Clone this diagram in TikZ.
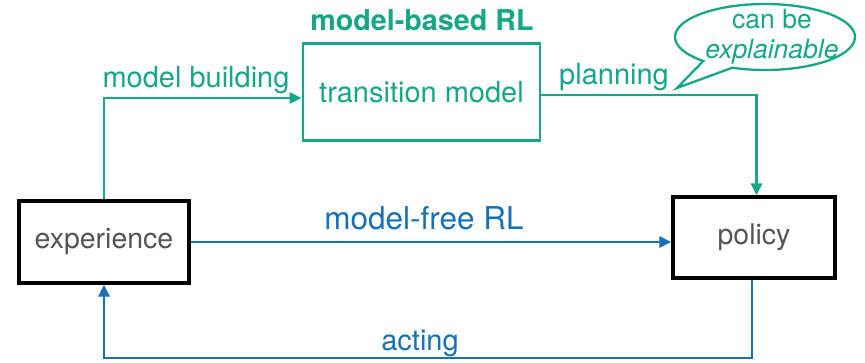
\documentclass[tikz,border=0pt]{standalone}
\usepackage{fontspec}
\setmainfont{TeX Gyre Heros}
\usetikzlibrary{shapes.callouts,arrows.meta}
\definecolor{mbteal}{RGB}{22,166,136}
\definecolor{mfblue}{RGB}{24,113,181}
\definecolor{txtgray}{RGB}{85,85,85}
\tikzset{
  blackbox/.style={draw=black, line width=3.2pt, minimum width=170pt, minimum height=82pt, inner sep=0pt, text=txtgray, font=\fontsize{28.5}{32}\selectfont},
  tealbox/.style={draw=mbteal, line width=2.8pt, inner sep=0pt, text=mbteal, font=\fontsize{29}{32}\selectfont},
  tealline/.style={draw=mbteal, line width=2.8pt, -{Triangle[length=12pt,width=11pt]}},
  blueline/.style={draw=mfblue, line width=2.8pt, -{Triangle[length=12pt,width=11pt]}},
  lbl/.style={inner sep=0pt, font=\fontsize{29}{32}\selectfont},
  bubble/.style={ellipse callout, draw=mbteal, line width=2.3pt, minimum width=180pt, minimum height=66pt, inner sep=0pt, callout pointer arc=22},
  bubtext/.style={inner sep=0pt, text=mbteal, align=center, font=\fontsize{26.5}{30}\selectfont}
}
\begin{document}
\begin{tikzpicture}[x=1pt,y=-1pt]
\useasboundingbox[fill=white] (0,0) rectangle (865,362);
\node[blackbox] (exp) at (104,242) {experience};
\node[blackbox, minimum width=162pt, minimum height=81pt] (pol) at (754,237.5) {policy};
\node[tealbox, minimum width=237pt, minimum height=97pt] (tm) at (421.5,92) {transition model};
\node[lbl, text=mbteal, font=\bfseries\fontsize{28.7}{32}\selectfont] (mb) at (422,20) {model-based RL};
\node[lbl, text=mbteal] (lmb) at (196,80) {model building};
\node[lbl, text=mbteal] (lpl) at (614,77) {planning};
\node[lbl, text=mfblue, font=\fontsize{31.5}{34}\selectfont] (lmf) at (424,218) {model-free RL};
\node[lbl, text=mfblue] (lac) at (420,343) {acting};
\coordinate (tip) at (677,88);
\node[bubble, callout absolute pointer=(tip)] (bub) at (765,37) {};
\node[bubtext] (bubt) at (772,37) {can be\\\textit{explainable}};
\coordinate (bot) at (0,358);
\draw[tealline] (exp.north) |- ([yshift=-6pt]tm.west);
\draw[tealline] ([yshift=-3pt]tm.east) -| ([xshift=2.5pt]pol.north);
\draw[blueline] (exp.east) -- (pol.west |- exp.east);
\draw[blueline] ([xshift=-2pt]pol.south) -- ([xshift=-2pt]pol.south |- bot) -| (exp.south);
\end{tikzpicture}
\end{document}
